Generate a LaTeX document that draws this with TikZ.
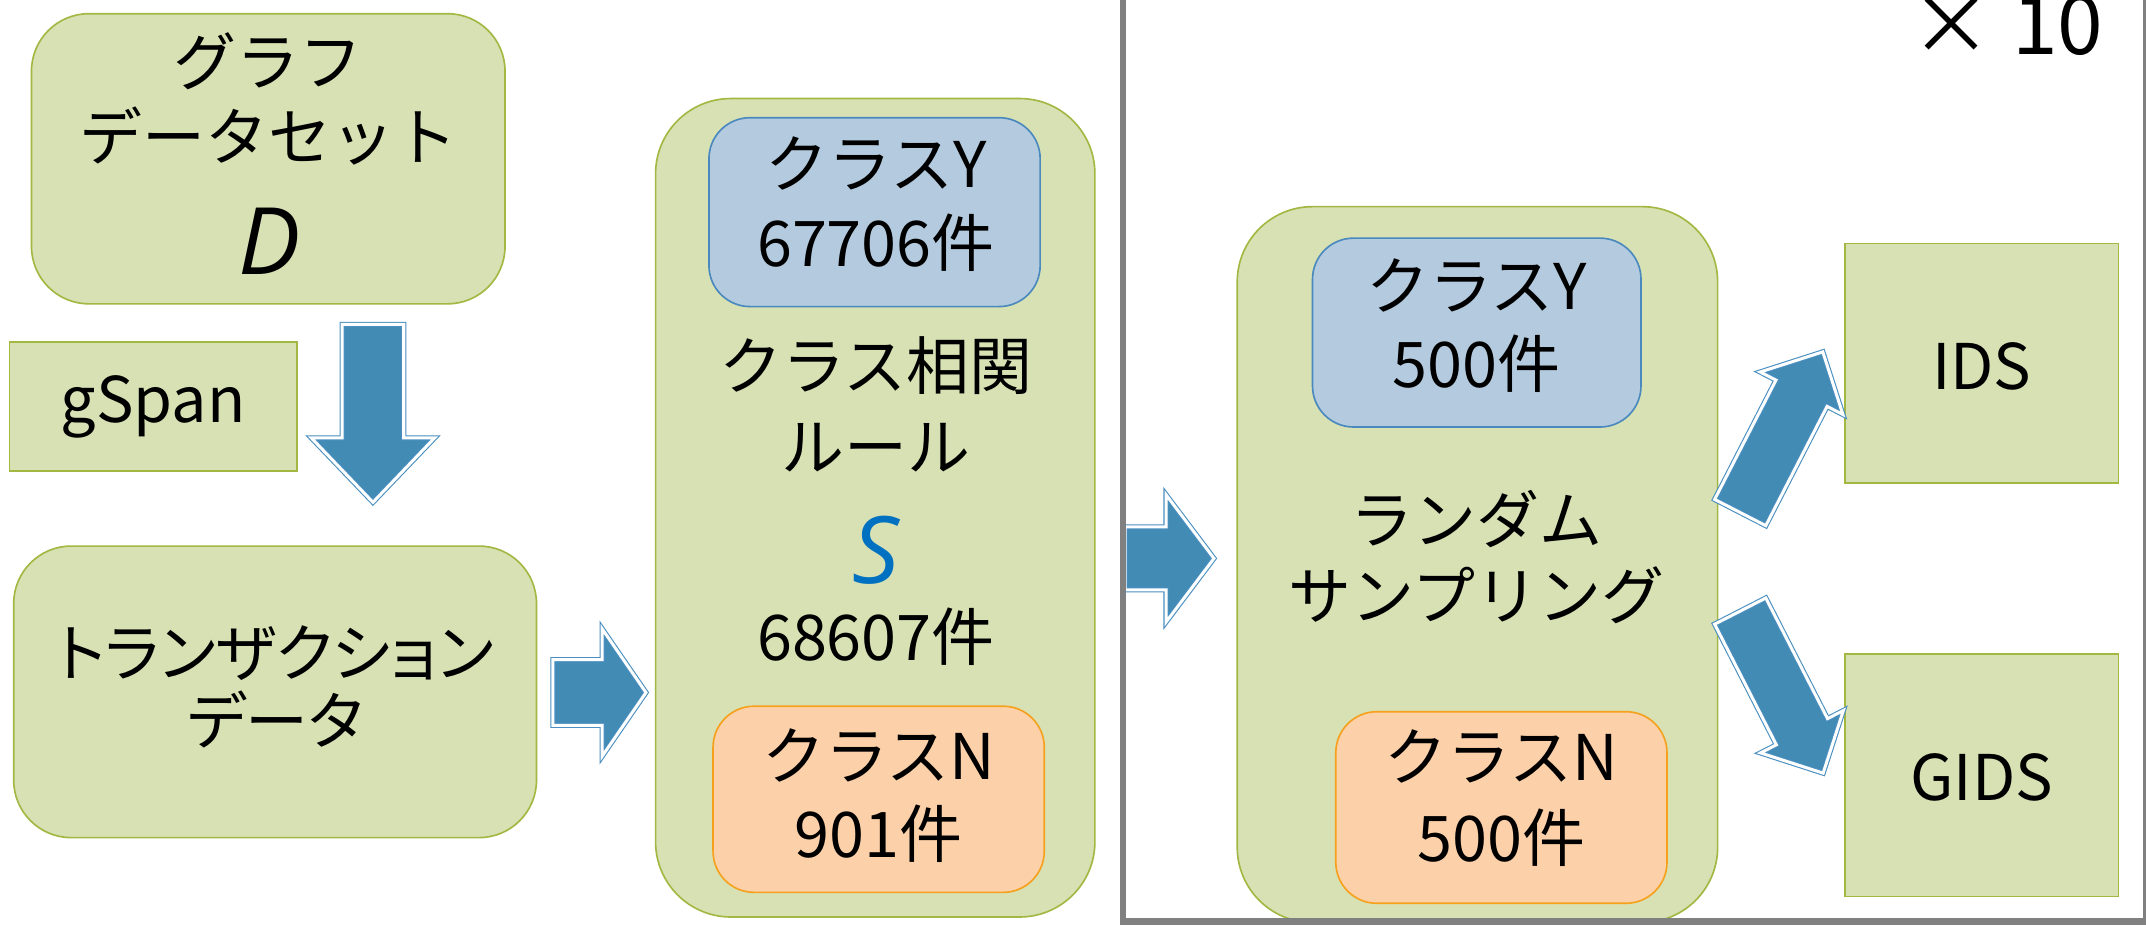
\documentclass[tikz,border=0pt]{standalone}
\usepackage{fontspec}
\setmainfont{Noto Sans CJK JP}
\newfontfamily\itfont{Open Sans}
\definecolor{gfill}{HTML}{D8E1B4}
\definecolor{gborder}{HTML}{A3B843}
\definecolor{bfill}{HTML}{B4CBDF}
\definecolor{bborder}{HTML}{4A89BD}
\definecolor{ofill}{HTML}{FCD0A8}
\definecolor{oborder}{HTML}{F5A11E}
\definecolor{afill}{HTML}{428BB4}
\definecolor{aline}{HTML}{4A8FC0}
\definecolor{scol}{HTML}{0070C0}
\definecolor{framegray}{HTML}{808080}
\tikzset{
  gbox/.style={draw=gborder, fill=gfill, line width=1.2pt, inner sep=0pt},
  bbox/.style={draw=bborder, fill=bfill, line width=1.2pt, inner sep=0pt, rounded corners=30pt},
  obox/.style={draw=oborder, fill=ofill, line width=1.2pt, inner sep=0pt, rounded corners=30pt},
  txt/.style={inner sep=0pt, align=center, font=\fontsize{46}{57}\selectfont},
  bigit/.style={inner sep=0pt, font=\itfont\itshape\fontsize{68}{68}\selectfont},
  arrowsty/.style={fill=afill, draw=aline, line width=0.8pt, double=white, double distance=2.2pt, line join=miter},
  framesty/.style={draw=framegray, line width=5pt}
}
\newcommand{\blkarrow}[6]{%
  \begin{scope}[shift={#1}, rotate=#2]
    \draw[arrowsty] (0,-#4) -- ({#3-#6},-#4) -- ({#3-#6},-#5) -- (#3,0) -- ({#3-#6},#5) -- ({#3-#6},#4) -- (0,#4) -- cycle;
  \end{scope}}
\begin{document}
\begin{tikzpicture}[x=1pt,y=-1pt]
\useasboundingbox (0,0) rectangle (1568,677);
\clip (0,0) rectangle (1568,677);
\fill[white] (0,0) rectangle (1568,677);

% left column
\node[gbox, rounded corners=42pt, minimum width=346pt, minimum height=212pt] (graph) at (196,116) {};
\node[txt] (graphT) at (196,72.5) {グラフ\\[-2pt]データセット};
\node[bigit] (D) at (197,176) {D};

\node[gbox, minimum width=210pt, minimum height=94pt] (gspan) at (112,297) {};
\node[txt] (gspanT) at (112,297) {gSpan};

\node[gbox, rounded corners=42pt, minimum width=382pt, minimum height=213pt] (trans) at (201,505.5) {};
\node[txt, font=\fontsize{46}{50}\selectfont\addfontfeatures{RawFeature=+palt}] (transT) at (201,502) {トランザクション\\データ};

% rule box
\node[gbox, rounded corners=55pt, minimum width=321pt, minimum height=598pt] (rule) at (639.5,371) {};
\node[bbox, minimum width=242pt, minimum height=138pt] (ruleY) at (639,155) {};
\node[txt, font=\fontsize{46}{58}\selectfont] (ruleYT) at (640,149) {クラスY\\67706件};
\node[txt, font=\fontsize{46}{59}\selectfont] (ruleT) at (640,295.5) {クラス相関\\ルール};
\node[bigit, text=scol] (S) at (640,402) {S};
\node[txt] (ruleCnt) at (640,465) {68607件};
\node[obox, minimum width=242pt, minimum height=136pt] (ruleN) at (642,584) {};
\node[txt] (ruleNT) at (642,581) {クラスN\\901件};

% sampling box
\node[gbox, rounded corners=55pt, minimum width=351pt, minimum height=523pt] (samp) at (1079.5,412.5) {};
\node[bbox, minimum width=240pt, minimum height=138pt] (sampY) at (1079,243) {};
\node[txt] (sampYT) at (1079,238) {クラスY\\500件};
\node[txt, font=\fontsize{46}{55}\selectfont] (sampT) at (1079,407) {ランダム\\サンプリング};
\node[obox, minimum width=242pt, minimum height=140pt] (sampN) at (1097,590) {};
\node[txt, font=\fontsize{46}{59}\selectfont] (sampNT) at (1097,583) {クラスN\\500件};

% outputs
\node[gbox, minimum width=200pt, minimum height=175pt] (ids) at (1448,265.5) {};
\node[txt] (idsT) at (1448,268) {IDS};
\node[gbox, minimum width=200pt, minimum height=177pt] (gids) at (1448,566.5) {};
\node[txt] (gidsT) at (1448,568) {GIDS};

% block arrows
\blkarrow{(272.5,237)}{-90}{130}{22.5}{45}{47}
\blkarrow{(404,506)}{0}{68}{24}{46.5}{32}
\blkarrow{(822,408)}{0}{65}{23}{46.5}{35}
\blkarrow{(1271.5,374.5)}{62.8}{132}{21}{34}{34}
\blkarrow{(1271.5,446.5)}{-62.9}{133}{21}{34}{34}

% repetition frame
\draw[framesty] (820.5,-20) rectangle (1568,673);
\node[inner sep=0pt, anchor=base east, font=\fontsize{60}{60}\selectfont] (times) at (1537,40) {×\kern14pt10};
\end{tikzpicture}
\end{document}
